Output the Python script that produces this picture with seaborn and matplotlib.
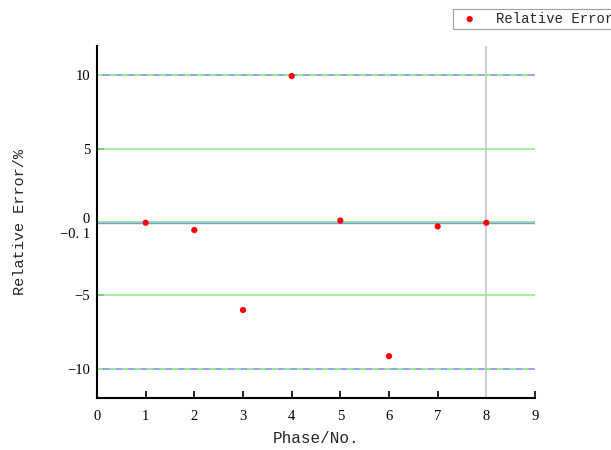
import matplotlib
matplotlib.use("Agg")
import matplotlib.pyplot as plt
import matplotlib.transforms as mtransforms
import seaborn as sns
import pandas as pd

phase = [1, 2, 3, 4, 5, 6, 7, 8]
rel_error = [-0.05, -0.55, -6.0, 9.95, 0.1, -9.15, -0.3, -0.05]
ytick_vals = [-10, -5, -0.1, 0, 5, 10]
ytick_labels = ["\u221210", "\u22125", "\u22120. 1", "0", "5", "10"]
xtick_vals = list(range(0, 10))

sns.set_style("ticks")
plt.rcParams["font.family"] = ["Liberation Mono", "DejaVu Sans"]

fig = plt.figure(figsize=(6.11, 4.5), dpi=100)
ax = fig.add_axes([97/611, 1-398/450, 438/611, 352/450])

df = pd.DataFrame({"Phase": phase, "Relative Error": rel_error})

green = "#90EE90"
blue = "#8C8CF5"
ax.axhline(10, color=blue, lw=1.2, zorder=1)
ax.axhline(10, color=green, lw=1.5, ls=(0, (3, 3)), zorder=1.1)
ax.axhline(-10, color=blue, lw=1.2, zorder=1)
ax.axhline(-10, color=green, lw=1.5, ls=(0, (3, 3)), zorder=1.1)
ax.axhline(5, color=green, lw=1.2, zorder=1)
ax.axhline(-5, color=green, lw=1.2, zorder=1)
ax.axhline(0, color=green, lw=2.2, zorder=1)
ax.axhline(-0.1, color=blue, lw=1.0, zorder=1.1)
ax.axvline(8, color="#d0d0d0", lw=1.5, zorder=0.9)

sns.scatterplot(data=df, x="Phase", y="Relative Error", ax=ax, color="red",
                s=20, edgecolor="none", label="Relative Error", zorder=3)

ax.set_xlim(0, 9)
ax.set_ylim(-12, 12)
ax.set_xticks(xtick_vals)
ax.set_yticks(ytick_vals)
ax.set_yticklabels(ytick_labels)
ax.tick_params(direction="in", length=5, width=1.2, labelsize=10.5, colors="black")
ax.tick_params(axis="y", pad=5)
ax.tick_params(axis="x", pad=9)
for lab in ax.get_xticklabels() + ax.get_yticklabels():
    lab.set_family(["Liberation Serif", "DejaVu Sans"])

ylabs = ax.get_yticklabels()
for lab in ylabs:
    txt = lab.get_text()
    if txt == "0":
        lab.set_transform(lab.get_transform() + mtransforms.ScaledTranslation(0, 4/100, fig.dpi_scale_trans))
    elif txt.startswith("\u22120"):
        lab.set_transform(lab.get_transform() + mtransforms.ScaledTranslation(0, -10/100, fig.dpi_scale_trans))

for s in ["top", "right"]:
    ax.spines[s].set_visible(False)
for s in ["left", "bottom"]:
    ax.spines[s].set_linewidth(1.5)
    ax.spines[s].set_color("black")

ax.set_xlabel("Phase/No.", fontsize=11.5)
ax.set_ylabel("Relative Error/%", fontsize=11)
ax.yaxis.set_label_coords(-0.16, 0.5)
ax.xaxis.set_label_coords(0.5, -0.095)

ax.get_legend().remove()
h, l = ax.get_legend_handles_labels()
leg = fig.legend(h, l, loc="upper left", bbox_to_anchor=(453/611, 1-9/450),
                 frameon=True, fancybox=False, fontsize=10, borderpad=0.2,
                 handletextpad=0.9, borderaxespad=0)
leg.get_frame().set_edgecolor("#888888")
leg.get_frame().set_linewidth(0.8)

fig.savefig("out.png", dpi=100)
